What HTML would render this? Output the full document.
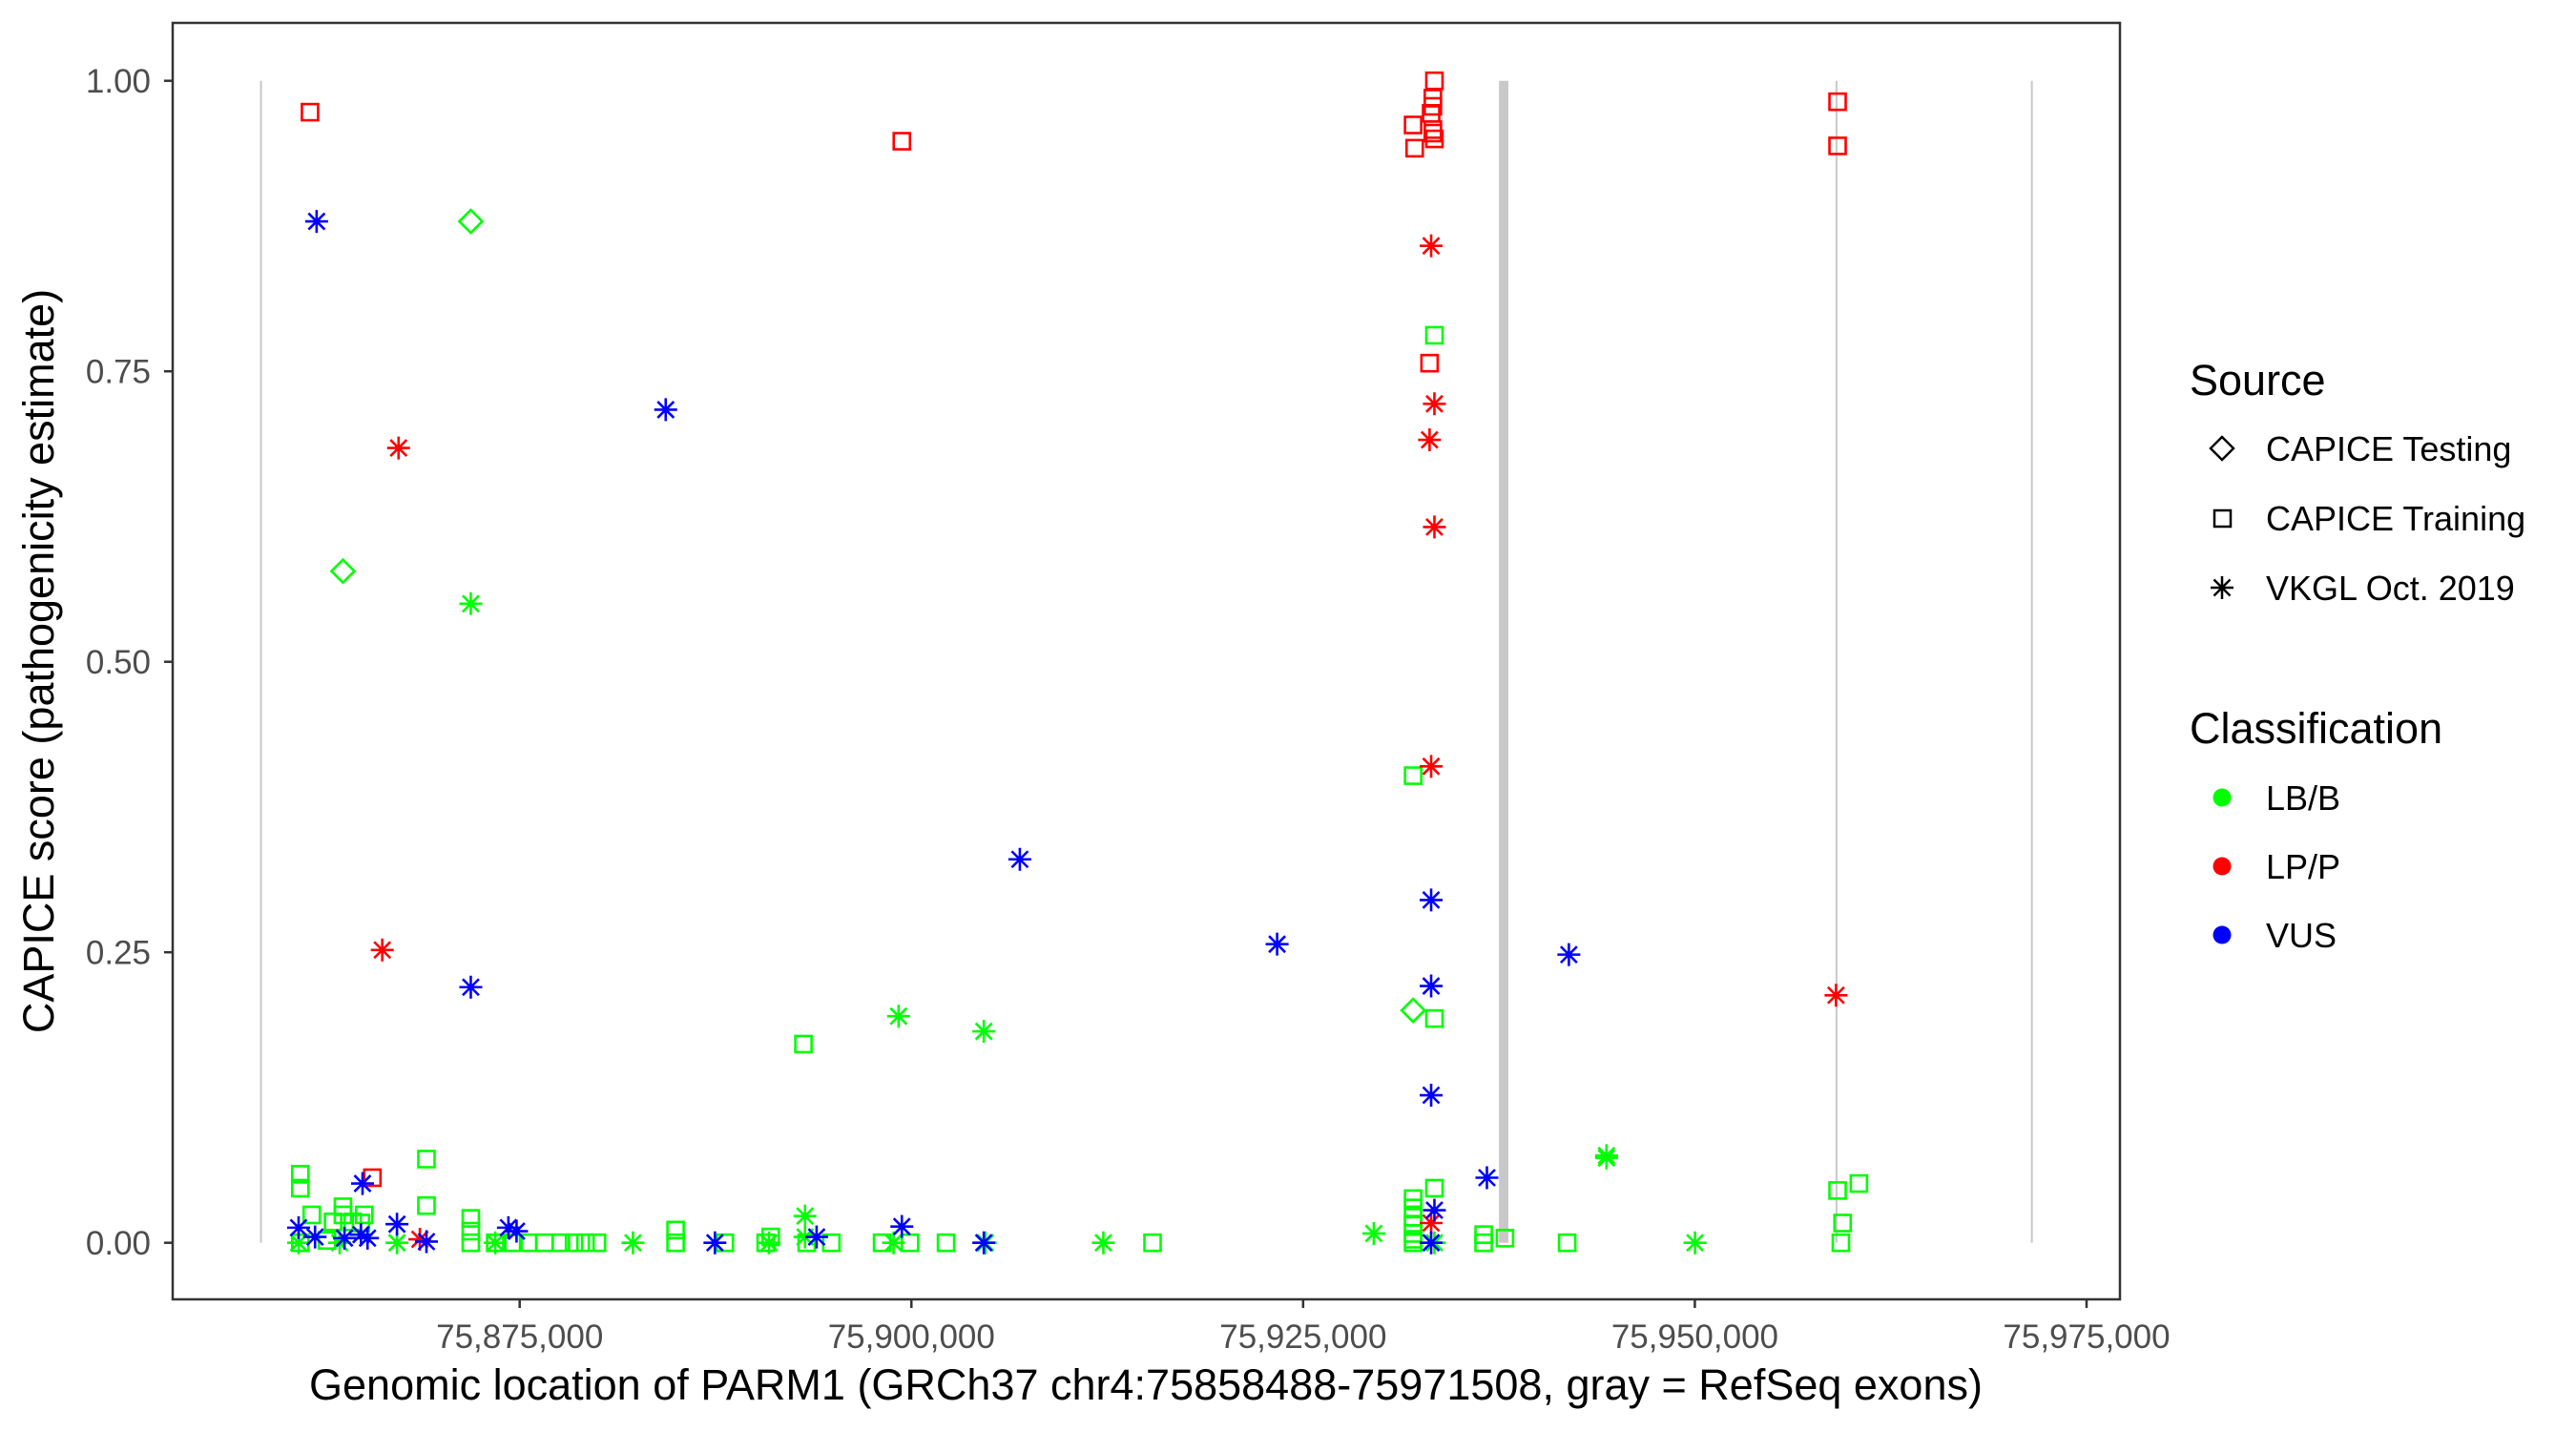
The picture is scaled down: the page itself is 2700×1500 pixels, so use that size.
<!DOCTYPE html>
<html><head><meta charset="utf-8"><style>
html,body{margin:0;padding:0;background:#fff;}
svg{display:block;font-family:"Liberation Sans",Arial,sans-serif;}
</style></head><body>
<svg id="chart" width="2700" height="1500" viewBox="0 0 2700 1500" xmlns="http://www.w3.org/2000/svg">
<rect x="0" y="0" width="2700" height="1500" fill="#fff"/>
<g id="exons"></g>
<g id="points"></g>
<rect x="181" y="24" width="2041" height="1338" fill="none" stroke="#333" stroke-width="2.5"/>
<g id="yaxis"></g>
<g id="xaxis"></g>
<text x="0" y="0" transform="translate(56,693) rotate(-90)" text-anchor="middle" font-size="45" fill="#000">CAPICE score (pathogenicity estimate)</text>
<text x="1201" y="1467" text-anchor="middle" font-size="45" fill="#000">Genomic location of PARM1 (GRCh37 chr4:75858488-75971508, gray = RefSeq exons)</text>
<g id="legend">
<text x="2295" y="414" font-size="45" fill="#000">Source</text>
<g>
<path d="M2317,470 l12,-12 l12,12 l-12,12 z" fill="none" stroke="#000" stroke-width="2.5"/>
<text x="2375" y="483" font-size="36" fill="#000">CAPICE Testing</text></g>
<g>
<rect x="2321" y="535" width="17" height="17" fill="none" stroke="#000" stroke-width="2.5"/>
<text x="2375" y="556" font-size="36" fill="#000">CAPICE Training</text></g>
<g>
<path d="M2317,616 h24 M2329,604 v24 M2320.5,607.5 l17,17 M2337.5,607.5 l-17,17" stroke="#000" stroke-width="2.5"/>
<text x="2375" y="629" font-size="36" fill="#000">VKGL Oct. 2019</text></g>
<text x="2295" y="779" font-size="45" fill="#000">Classification</text>
<g><circle cx="2329" cy="836" r="9.5" fill="#00ff00"/><text x="2375" y="849" font-size="36" fill="#000">LB/B</text></g>
<g><circle cx="2329" cy="908" r="9.5" fill="#ff0000"/><text x="2375" y="921" font-size="36" fill="#000">LP/P</text></g>
<g><circle cx="2329" cy="980" r="9.5" fill="#0000ff"/><text x="2375" y="993" font-size="36" fill="#000">VUS</text></g>
</g>
</svg>
<script>
const yTicks=[0,0.25,0.5,0.75,1.0];
const yTickLabels=["0.00","0.25","0.50","0.75","1.00"];
const xTicks=[75875000,75900000,75925000,75950000,75975000];
const xTickLabels=["75,875,000","75,900,000","75,925,000","75,950,000","75,975,000"];
const exonStart=[75858488,75937500,75959040,75971508];
const exonEnd=[75858488,75938100,75959040,75971508];

// Green (LB/B)
const lbStarX=[75871880,75899180,75904620,75893210,75944360,75944360,75929510,75912250,75882230,75950010,75860890,75863510,75867170,75873440,75890910,75898860,75904720,75933380,75893210];
const lbStarY=[0.55,0.195,0.182,0.023,0.075,0.073,0.008,0,0,0,0,0,0,0,0,0,0,0,0.005];
const lbDiaX=[75871880,75863720,75932020];
const lbDiaY=[0.879,0.578,0.2];
const lbSqX=[75861000,75861000,75861730,75863090,75863720,75863720,75864340,75864870,75865080,75869050,75869050,75871880,75871880,75871880,75873440,75874600,75875540,75876580,75877630,75878470,75879200,75879930,75884950,75884950,75888090,75890700,75891020,75893320,75894890,75898130,75899910,75902210,75893110,75915390,75932020,75933380,75933380,75932020,75932020,75932020,75932020,75932020,75932020,75932020,75933380,75936520,75936520,75937880,75941850,75959110,75959430,75959320,75960470,75861000,75862700];
const lbSqY=[0.059,0.047,0.024,0.018,0.024,0.031,0.018,0.017,0.024,0.072,0.032,0.021,0.01,0,0,0,0,0,0,0,0,0,0.011,0,0,0,0.005,0,0,0,0,0,0.171,0,0.402,0.781,0.193,0.038,0.03,0.022,0.015,0.008,0.003,0,0.047,0.007,0,0.004,0,0.045,0.017,0,0.051,0,0.002];
// Red (LP/P)
const lpSqX=[75861618,75899390,75933380,75933280,75933280,75933170,75932020,75933280,75933380,75933280,75932120,75933070,75959110,75959110,75865600];
const lpSqY=[0.973,0.948,1.0,0.985,0.978,0.972,0.962,0.955,0.95,0.958,0.942,0.757,0.982,0.944,0.056];
const lpStarX=[75867270,75866230,75933170,75933380,75933070,75933380,75933170,75933170,75959010,75868630];
const lpStarY=[0.684,0.252,0.858,0.722,0.691,0.616,0.41,0.017,0.213,0.003];
// Blue (VUS)
const vusStarX=[75862040,75884320,75906920,75923340,75941960,75871880,75933170,75933170,75933170,75936730,75933380,75864970,75860890,75861940,75863820,75864870,75865290,75867170,75869050,75874280,75874800,75887460,75893950,75899390,75904620,75933170];
const vusStarY=[0.879,0.717,0.33,0.257,0.248,0.22,0.295,0.221,0.127,0.056,0.028,0.051,0.013,0.005,0.004,0.007,0.004,0.016,0.001,0.013,0.01,0,0.005,0.014,0,0];

const NS="http://www.w3.org/2000/svg";
function xs(g){return 544.7+(g-75875000)*0.016423;}
function ys(v){return 1302.7-v*1218;}
function mk(tag,attrs,parent){const e=document.createElementNS(NS,tag);for(const k in attrs)e.setAttribute(k,attrs[k]);parent.appendChild(e);return e;}

const exG=document.getElementById('exons');
for(let i=0;i<exonStart.length;i++){
  const x1=xs(exonStart[i]),x2=xs(exonEnd[i]);
  const w=Math.max(2,x2-x1);
  const r=mk('rect',{x:(x1+x2)/2-w/2,y:ys(1),width:w,height:ys(0)-ys(1),fill:'#c8c8c8'},exG);
  
  
}

const yG=document.getElementById('yaxis');
yTicks.forEach((t,i)=>{
  const y=ys(t);
  const l=mk('line',{x1:172,x2:181,y1:y,y2:y,stroke:'#333','stroke-width':2.5},yG);
  
  
  const tx=mk('text',{x:158,y:y+12.5,'text-anchor':'end','font-size':35,fill:'#4d4d4d'},yG);
  tx.textContent=yTickLabels[i];
  
  
});
const xG=document.getElementById('xaxis');
xTicks.forEach((t,i)=>{
  const x=xs(t);
  const l=mk('line',{x1:x,x2:x,y1:1362,y2:1371,stroke:'#333','stroke-width':2.5},xG);
  
  
  const tx=mk('text',{x:x,y:1413,'text-anchor':'middle','font-size':35,fill:'#4d4d4d'},xG);
  tx.textContent=xTickLabels[i];
  
  
});

const pG=document.getElementById('points');
function square(x,y,c){const s=17;const e=mk('rect',{x:x-s/2,y:y-s/2,width:s,height:s,fill:'none',stroke:c,'stroke-width':2.6},pG);}
function diamond(x,y,c){const r=12;const e=mk('path',{d:`M${x-r},${y} L${x},${y-r} L${x+r},${y} L${x},${y+r} Z`,fill:'none',stroke:c,'stroke-width':2.6},pG);}
function star(x,y,c){const r=12,d=8.5;const e=mk('path',{d:`M${x-r},${y}H${x+r}M${x},${y-r}V${y+r}M${x-d},${y-d}L${x+d},${y+d}M${x+d},${y-d}L${x-d},${y+d}`,fill:'none',stroke:c,'stroke-width':2.6},pG);}

const G='#00ff00',R='#ff0000',B='#0000ff';
lbSqX.forEach((g,i)=>square(xs(g),ys(lbSqY[i]),G));
lbDiaX.forEach((g,i)=>diamond(xs(g),ys(lbDiaY[i]),G));
lbStarX.forEach((g,i)=>star(xs(g),ys(lbStarY[i]),G));
lpSqX.forEach((g,i)=>square(xs(g),ys(lpSqY[i]),R));
lpStarX.forEach((g,i)=>star(xs(g),ys(lpStarY[i]),R));
vusStarX.forEach((g,i)=>star(xs(g),ys(vusStarY[i]),B));
</script>
</body></html>
